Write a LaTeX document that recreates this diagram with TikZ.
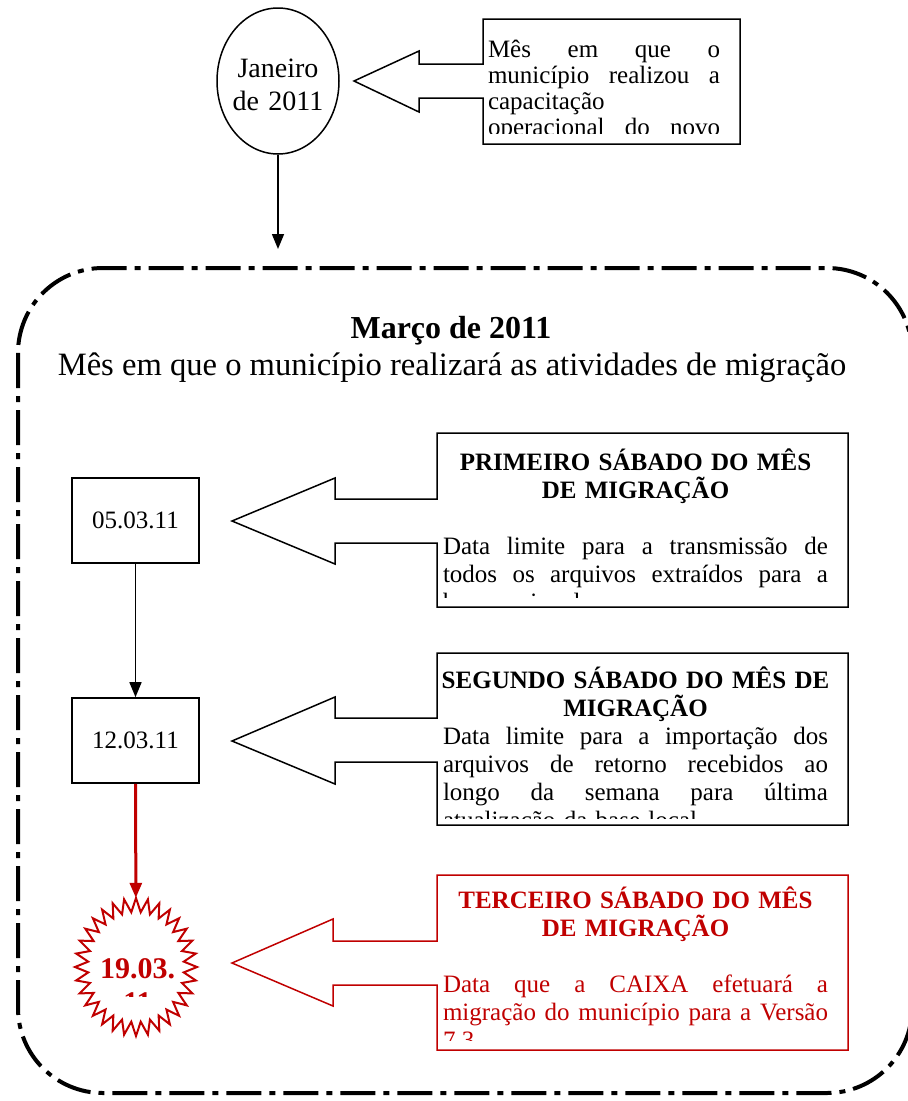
\documentclass[tikz,border=0pt]{standalone}
\usepackage{fontspec}
\setmainfont{Liberation Serif}
\usetikzlibrary{arrows.meta,shapes.geometric}

\definecolor{migred}{HTML}{C00000}
\newcommand{\jline}[2][385pt]{\leavevmode\hbox to #1{\spaceskip=0.25em plus 1fil\relax #2}}
\newcommand{\lline}[2][385pt]{\leavevmode\hbox to #1{#2\hfil}}

\begin{document}
\begin{tikzpicture}[x=1pt,y=-1pt,
  every node/.style={inner sep=0pt},
  datebox/.style={draw,line width=1.6pt,minimum width=127pt,minimum height=85pt,font=\fontsize{25}{28}\selectfont},
  callout/.style={line width=1.5pt},
  flow/.style={-{Triangle[length=15pt,width=12pt]},line width=1.5pt},
  bodytext/.style={anchor=base,text width=400pt,align=center,font=\fontsize{25}{28}\selectfont}]
  \useasboundingbox (0,0) rectangle (908,1101);

  % Draw training month at the top
  \node[ellipse,draw,line width=1.5pt,minimum width=122pt,minimum height=146pt] (jan) at (278,81) {};
  \node[anchor=base,text width=110pt,align=center,font=\fontsize{28}{33}\selectfont] (jantxt) at (278,77) {Janeiro\\de 2011};
  \coordinate (frametop) at (278,249);
  \draw[flow] (jan) -- (frametop);

  % Draw callout for January
  \draw[callout] (483,19) -- (740,19) -- (740,144) -- (483,144) -- (483,98) -- (419,98)
    -- (419,112) -- (354,81) -- (419,51) -- (419,64) -- (483,64) -- cycle;
  \begin{scope}
    \clip (486,22) rectangle (737,133);
    \node[anchor=base,text width=232pt,align=left,font=\fontsize{25}{26}\selectfont] (jannote) at (604,57)
      {\jline[232pt]{Mês em que o}\\\jline[232pt]{município realizou a}\\capacitação\\\jline[232pt]{operacional do novo}};
  \end{scope}

  % Draw migration frame
  \draw[line width=4pt,dash pattern=on 35pt off 8pt on 6pt off 8pt,rounded corners=85pt]
    (18,268) rectangle (912,1093);
  \node[anchor=base,font=\bfseries\fontsize{32}{36}\selectfont] (title) at (451,338) {Março de 2011};
  \node[anchor=base,font=\fontsize{32.6}{36}\selectfont] (subtitle) at (452,375)
    {Mês em que o município realizará as atividades de migração};

  % Draw dates
  \node[datebox] (dt05) at (135.5,520.5) {05.03.11};
  \node[datebox] (dt12) at (135.5,740.5) {12.03.11};
  \node[ellipse,minimum width=122pt,minimum height=138pt] (mar19) at (136,967) {};
  \draw[flow] (dt05) -- (dt12);
  \draw[flow,migred,line width=3pt] (dt12) -- (mar19);

  % Draw burst for migration day
  \draw[migred,line width=2pt,shift={(mar19.center)}] (90:61pt and 69pt)
    \foreach \i in {1,...,32} { -- ({90+(\i-0.5)*360/32}:48pt and 55pt) -- ({90+\i*360/32}:61pt and 69pt) } -- cycle;
  \begin{scope}
    \clip (90,935) rectangle (184,996);
    \node[anchor=base,align=center,text=migred,font=\bfseries\fontsize{30}{34}\selectfont] (mar19txt) at (137.5,1012) {19.03.\\11};
  \end{scope}

  % Draw callout for first Saturday
  \draw[callout] (437,433) -- (848,433) -- (848,607) -- (437,607) -- (437,543) -- (335,543)
    -- (335,564) -- (232,521) -- (335,478) -- (335,499) -- (437,499) -- cycle;
  \begin{scope}
    \clip (441,437) rectangle (844,597);
    \node[bodytext] (sat1) at (635.5,470)
      {\textbf{PRIMEIRO SÁBADO DO MÊS}\\\textbf{DE MIGRAÇÃO}\\[28pt]
       \jline{Data limite para a transmissão de}\\\jline{todos os arquivos extraídos para a}\\\lline{base nacional.}};
  \end{scope}

  % Draw callout for second Saturday
  \draw[callout] (437,653) -- (848,653) -- (848,825) -- (437,825) -- (437,762) -- (335,762)
    -- (335,784) -- (232,741) -- (335,697) -- (335,718) -- (437,718) -- cycle;
  \begin{scope}
    \clip (441,657) rectangle (844,818);
    \node[bodytext] (sat2) at (635.5,688)
      {\textbf{SEGUNDO SÁBADO DO MÊS DE}\\\textbf{MIGRAÇÃO}\\
       \jline{Data limite para a importação dos}\\\jline{arquivos de retorno recebidos ao}\\
       \jline{longo da semana para última}\\\lline{atualização da base local.}};
  \end{scope}

  % Draw callout for third Saturday
  \draw[callout,migred] (437,875) -- (848,875) -- (848,1050) -- (437,1050) -- (437,985) -- (333,985)
    -- (333,1006) -- (232,963) -- (333,919) -- (333,941) -- (437,941) -- cycle;
  \begin{scope}
    \clip (441,879) rectangle (844,1040);
    \node[bodytext,text=migred] (sat3) at (635.5,908)
      {\textbf{TERCEIRO SÁBADO DO MÊS}\\\textbf{DE MIGRAÇÃO}\\[28pt]
       \jline{Data que a CAIXA efetuará a}\\\jline{migração do município para a Versão}\\\lline{7.3}};
  \end{scope}
\end{tikzpicture}
\end{document}
